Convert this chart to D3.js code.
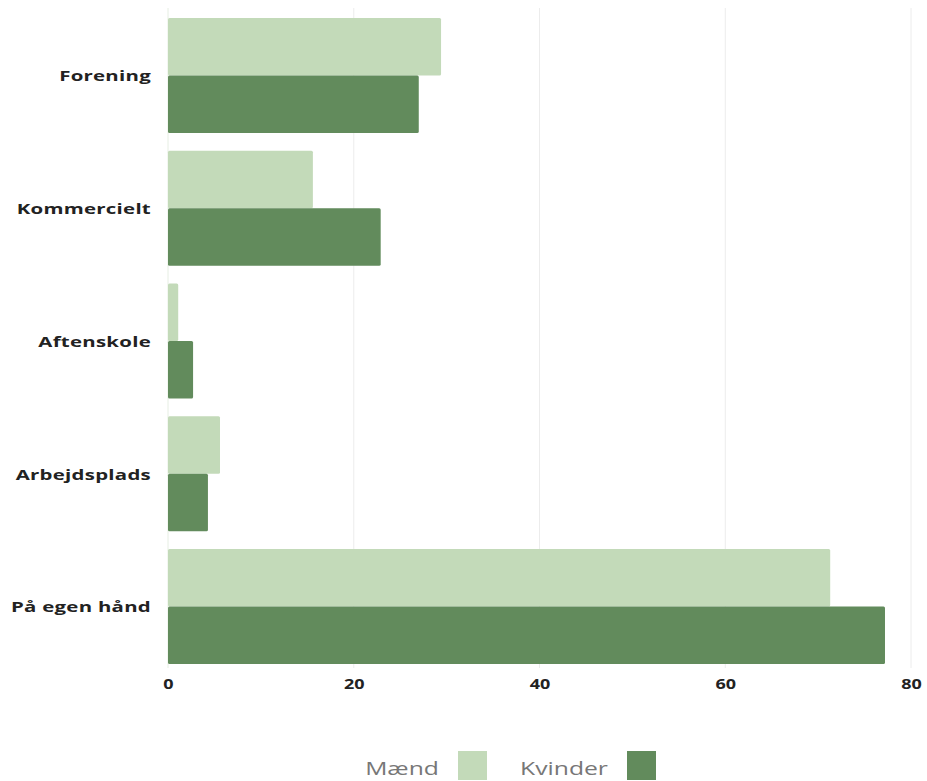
<!DOCTYPE html>
<html>
<head>
<meta charset="utf-8">
<script src="https://cdn.jsdelivr.net/npm/d3@7"></script>
<style>
  html, body { margin: 0; padding: 0; background: #fff; }
  svg { display: block; }
</style>
</head>
<body>
<svg id="chart" width="927" height="781"></svg>
<script>
const categories = ["Forening", "Kommercielt", "Aftenskole", "Arbejdsplads", "På egen hånd"];
const seriesNames = ["Mænd", "Kvinder"];
const maendValues = [29.4, 15.6, 1.1, 5.6, 71.3];
const kvinderValues = [27.0, 22.9, 2.7, 4.3, 77.2];
const xTicks = [0, 20, 40, 60, 80];
const colors = ["#c3dab9", "#628b5c"];

const svg = d3.select("#chart");
const x = d3.scaleLinear().domain([0, 80]).range([168, 911]);
const y = d3.scaleBand().domain(categories).range([9.1, 672.9]).paddingInner(0.134).paddingOuter(0.067);
const sub = d3.scaleBand().domain(seriesNames).range([0, y.bandwidth()]).padding(0);

// gridlines
svg.append("g").selectAll("line").data(xTicks).join("line")
  .attr("x1", d => x(d)).attr("x2", d => x(d))
  .attr("y1", 8).attr("y2", 668)
  .attr("stroke", d => d === 0 ? "#e6eee3" : "#ececec").attr("stroke-width", 1);

const data = categories.map((c, i) => ({ cat: c, vals: [maendValues[i], kvinderValues[i]] }));

const groups = svg.append("g").selectAll("g").data(data).join("g")
  .attr("transform", d => `translate(0,${y(d.cat)})`);
groups.selectAll("rect").data(d => d.vals.map((v, j) => ({ v, s: seriesNames[j], j })))
  .join("rect")
  .attr("x", x(0))
  .attr("y", d => sub(d.s))
  .attr("width", d => x(d.v) - x(0))
  .attr("height", sub.bandwidth())
  .attr("rx", 1.5)
  .attr("fill", d => colors[d.j]);

// y labels (horizontally stretched like the reference)
svg.append("g").selectAll("text").data(categories).join("text")
  .attr("transform", d => `translate(151,${y(d) + y.bandwidth() / 2}) scale(1.36,1)`)
  .attr("x", 0).attr("y", 0)
  .attr("text-anchor", "end")
  .attr("dominant-baseline", "central")
  .attr("font-family", "Open Sans, sans-serif")
  .attr("font-weight", 700)
  .attr("font-size", 15)
  .attr("letter-spacing", 0.2)
  .attr("fill", "#222")
  .text(d => d);

// x axis
const xAxis = d3.axisBottom(x).tickValues(xTicks).tickSize(0).tickPadding(0);
const ax = svg.append("g").attr("transform", "translate(0,678)").call(xAxis);
ax.select(".domain").remove();
ax.selectAll("text")
  .attr("font-family", "Open Sans, sans-serif")
  .attr("font-weight", 700)
  .attr("font-size", 15)
  .attr("fill", "#222")
  .attr("dy", "0.71em")
  .attr("transform", "scale(1.2,1)");

// legend
const legend = svg.append("g");
const legendItems = [
  { name: seriesNames[0], tx: 402, sx: 458, color: colors[0] },
  { name: seriesNames[1], tx: 564, sx: 627, color: colors[1] }
];
legend.selectAll("text").data(legendItems).join("text")
  .attr("transform", d => `translate(${d.tx},767) scale(1.3,1)`)
  .attr("x", 0).attr("y", 0)
  .attr("text-anchor", "middle")
  .attr("dominant-baseline", "central")
  .attr("font-family", "Open Sans, sans-serif")
  .attr("font-size", 19)
  .attr("fill", "#777")
  .text(d => d.name);
legend.selectAll("rect").data(legendItems).join("rect")
  .attr("x", d => d.sx).attr("y", 751)
  .attr("width", 29).attr("height", 29)
  .attr("fill", d => d.color);
</script>
</body>
</html>
